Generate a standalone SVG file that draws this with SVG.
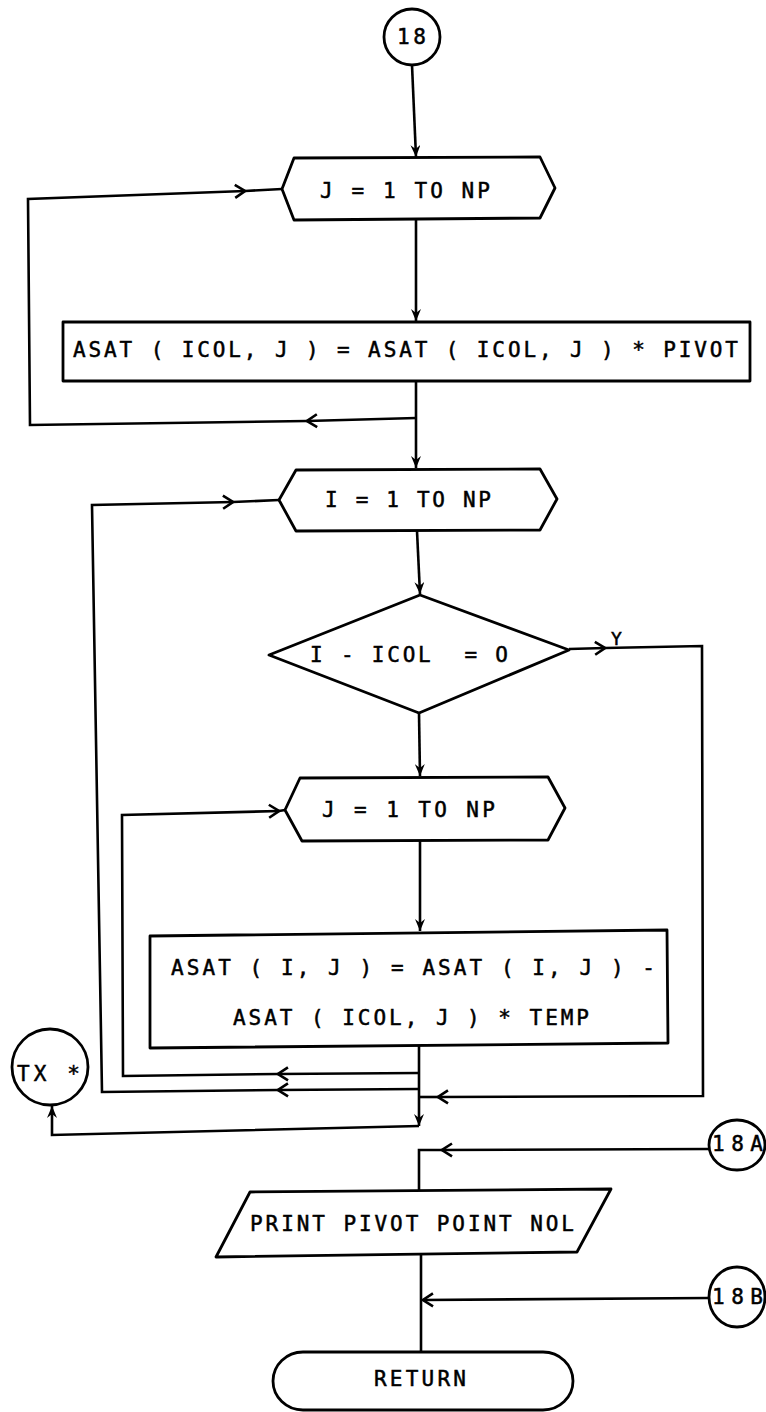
<svg xmlns="http://www.w3.org/2000/svg" width="766" height="1412" viewBox="0 0 766 1412">
  <style>
    .shape { fill: #fff; stroke: #000; stroke-width: 2.8; stroke-linejoin: round; }
    .lbl { font-family: "DejaVu Sans Mono", "Liberation Mono", monospace; font-size: 21px; fill: #000; stroke: #000; stroke-width: 0.5; white-space: pre; }
    .sm { font-size: 18px; }
  </style>
  <defs>
    <!-- open chevron for horizontal flow lines -->
    <marker id="ah" viewBox="0 0 12 16" refX="11" refY="8" markerWidth="12" markerHeight="16" markerUnits="userSpaceOnUse" orient="auto">
      <path d="M1,1.5 L11,8 L1,14.5" fill="none" stroke="#000" stroke-width="2.6"/>
    </marker>
    <!-- small solid arrowhead for vertical flow lines -->
    <marker id="av" viewBox="0 0 12 10" refX="12" refY="5" markerWidth="13" markerHeight="10" markerUnits="userSpaceOnUse" orient="auto">
      <path d="M0,0 L12,5 L0,10 L4,5 Z" fill="#000"/>
    </marker>
  </defs>
  <rect width="766" height="1412" fill="#fff"/>

  <g id="connectors" fill="none" stroke="#000" stroke-width="2.6">
    <path d="M412,65 L416,157" marker-end="url(#av)"/>
    <path d="M416,220 L416,321" marker-end="url(#av)"/>
    <path d="M416,382 L416,468" marker-end="url(#av)"/>
    <!-- outer J loop -->
    <path d="M416,418 L307,421" marker-end="url(#ah)"/>
    <path d="M307,421 L30,425 L28,199 L245,191" marker-end="url(#ah)"/>
    <path d="M245,191 L282,189"/>
    <!-- I loop -->
    <path d="M419,1089 L278,1090" marker-end="url(#ah)"/>
    <path d="M278,1090 L102,1092 L92,505 L233,502" marker-end="url(#ah)"/>
    <path d="M233,502 L279,500"/>
    <!-- inner J loop -->
    <path d="M419,1073 L278,1074" marker-end="url(#ah)"/>
    <path d="M278,1074 L123,1076 L122,815 L279,811" marker-end="url(#ah)"/>
    <path d="M279,811 L285,810"/>
    <!-- main column -->
    <path d="M417,531 L420,594" marker-end="url(#av)"/>
    <path d="M419,713 L420,776" marker-end="url(#av)"/>
    <path d="M420,840 L420,931" marker-end="url(#av)"/>
    <!-- Y branch -->
    <path d="M569,649 L605,648" marker-end="url(#ah)"/>
    <path d="M605,648 L702,646 L703,1096 L438,1097" marker-end="url(#ah)"/>
    <path d="M438,1097 L419,1097"/>
    <!-- exit to TX -->
    <path d="M419,1046 L419,1126" marker-end="url(#av)"/>
    <path d="M419,1126 L52,1135 L52,1106" marker-end="url(#av)"/>
    <!-- entry 18A -->
    <path d="M709,1149 L442,1150" marker-end="url(#ah)"/>
    <path d="M442,1150 L419,1150 L419,1190"/>
    <!-- print to return -->
    <path d="M421,1254 L421,1352"/>
    <!-- entry 18B -->
    <path d="M709,1298 L423,1300" marker-end="url(#ah)"/>
  </g>

  <g id="n18">
    <ellipse class="shape" cx="412" cy="37" rx="28" ry="28"/>
    <text class="lbl" x="397" y="44" textLength="29" lengthAdjust="spacing">18</text>
  </g>

  <g id="loopJ1">
    <polygon class="shape" points="282,189 294,158 540,157 555,188 540,218 294,220"/>
    <text class="lbl" x="320" y="198" textLength="170" lengthAdjust="spacing">J = 1 TO NP</text>
  </g>

  <g id="scalePivot">
    <rect class="shape" x="63" y="322" width="687" height="59"/>
    <text class="lbl" x="73" y="357" textLength="665" lengthAdjust="spacing">ASAT ( ICOL, J ) = ASAT ( ICOL, J ) * PIVOT</text>
  </g>

  <g id="loopI">
    <polygon class="shape" points="279,500 296,470 540,469 557,499 540,530 296,531"/>
    <text class="lbl" x="325" y="507" textLength="166" lengthAdjust="spacing">I = 1 TO NP</text>
  </g>

  <g id="testCol">
    <polygon class="shape" points="420,595 569,650 419,713 269,655"/>
    <text class="lbl" x="310" y="662" textLength="198" lengthAdjust="spacing" xml:space="preserve">I - ICOL  = O</text>
    <text class="lbl sm" x="611" y="645">Y</text>
  </g>

  <g id="loopJ2">
    <polygon class="shape" points="285,810 300,778 548,777 565,808 548,840 302,841"/>
    <text class="lbl" x="322" y="817" textLength="173" lengthAdjust="spacing">J = 1 TO NP</text>
  </g>

  <g id="eliminate">
    <polygon class="shape" points="150,936 667,930 668,1043 150,1048"/>
    <text class="lbl" x="171" y="975" textLength="484" lengthAdjust="spacing">ASAT ( I, J ) = ASAT ( I, J ) -</text>
    <text class="lbl" x="233" y="1025" textLength="356" lengthAdjust="spacing">ASAT ( ICOL, J ) * TEMP</text>
  </g>

  <g id="nTX">
    <ellipse class="shape" cx="50" cy="1067" rx="38" ry="38"/>
    <text class="lbl" x="17" y="1081" textLength="63" lengthAdjust="spacing">TX *</text>
  </g>

  <g id="n18A">
    <ellipse class="shape" cx="737" cy="1145" rx="28" ry="25"/>
    <text class="lbl" x="712" y="1151" textLength="51" lengthAdjust="spacing">18A</text>
  </g>

  <g id="printPivot">
    <polygon class="shape" points="250,1192 611,1189 577,1252 216,1257"/>
    <text class="lbl" x="250" y="1231" textLength="324" lengthAdjust="spacing">PRINT PIVOT POINT NOL</text>
  </g>

  <g id="n18B">
    <ellipse class="shape" cx="737" cy="1297" rx="28" ry="30"/>
    <text class="lbl" x="712" y="1304" textLength="51" lengthAdjust="spacing">18B</text>
  </g>

  <g id="ret">
    <rect class="shape" x="273" y="1352" width="300" height="58" rx="30" ry="29"/>
    <text class="lbl" x="374" y="1386" textLength="92" lengthAdjust="spacing">RETURN</text>
  </g>
</svg>
